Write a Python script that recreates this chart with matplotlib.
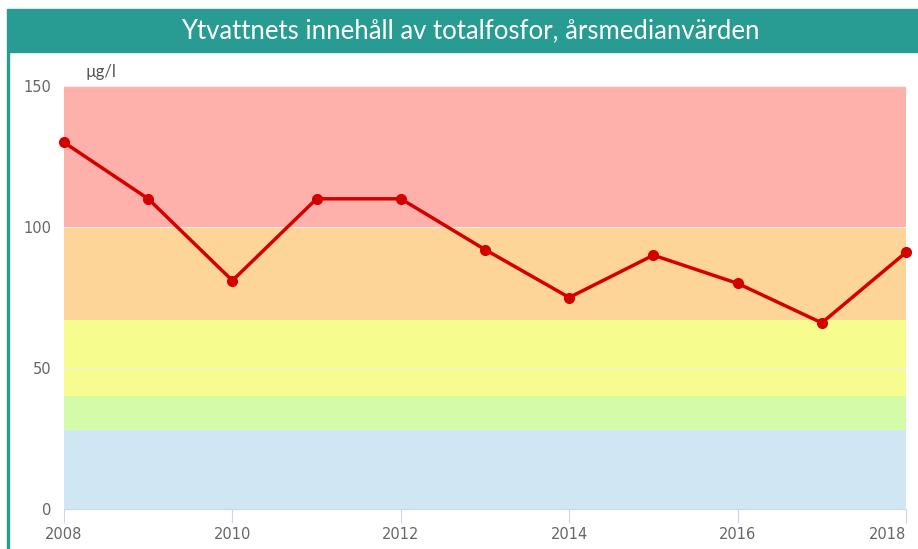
import matplotlib
matplotlib.use('Agg')

import matplotlib.pyplot as plt
from matplotlib.patches import Rectangle

# data
years = [2008, 2009, 2010, 2011, 2012, 2013, 2014, 2015, 2016, 2017, 2018]
fosfor = [130, 110, 81, 110, 110, 92, 75, 90, 80, 66, 91]

# klassgränser (µg/l) och färger
band_edges = [0, 28, 40, 67, 100, 150]
band_colors = ['#d1e6f3', '#d3fba8', '#f6fd8e', '#fdd598', '#feb0aa']

xticks = [2008, 2010, 2012, 2014, 2016, 2018]
yticks = [0, 50, 100, 150]
title = 'Ytvattnets innehåll av totalfosfor, årsmedianvärden'
unit = 'µg/l'

plt.rcParams['font.family'] = ['Lato', 'DejaVu Sans']

fig = plt.figure(figsize=(9.18, 5.49), dpi=100)
W, H = 918, 549

# rubrikfält
fig.patches.append(Rectangle((7/W, 1-52/H), 1, 43/H, transform=fig.transFigure,
                             color='#289c92', zorder=0))
fig.patches.append(Rectangle((7/W, 0), 2/W, 1-52/H, transform=fig.transFigure,
                             color='#289c92', zorder=0))
fig.text(470/W, 1-31/H, title, color='white', fontsize=18.5, ha='center', va='center')

ax = fig.add_axes([64/W, 1-509/H, (906-64)/W, (509-86)/H])
for i in range(len(band_colors)):
    ax.axhspan(band_edges[i], band_edges[i+1], color=band_colors[i], lw=0, zorder=0)
for y in yticks:
    ax.axhline(y, color='#f0f0f0', lw=0.8, zorder=1)

ax.plot(years, fosfor, color='#d40000', lw=2.5, marker='o', ms=7, zorder=3, clip_on=False)

ax.set_xlim(2008, 2018)
ax.set_ylim(0, 150)
ax.set_xticks(xticks)
ax.set_yticks(yticks)
for s in ['top', 'right', 'left']:
    ax.spines[s].set_visible(False)
ax.spines['bottom'].set_color('#ccd6eb')
ax.tick_params(axis='x', colors='#ccd6eb', length=10, labelcolor='#666666', pad=3)
ax.tick_params(axis='y', length=0, labelcolor='#666666', pad=9)
for lab in ax.get_xticklabels() + ax.get_yticklabels():
    lab.set_family('DejaVu Sans')
    lab.set_fontsize(10.5)
ax.get_xticklabels()[-1].set_horizontalalignment('right')
ax.text(0.025, 1.015, unit, transform=ax.transAxes, color='#555555', fontsize=12, va='bottom')

fig.savefig('out.png', dpi=100)
